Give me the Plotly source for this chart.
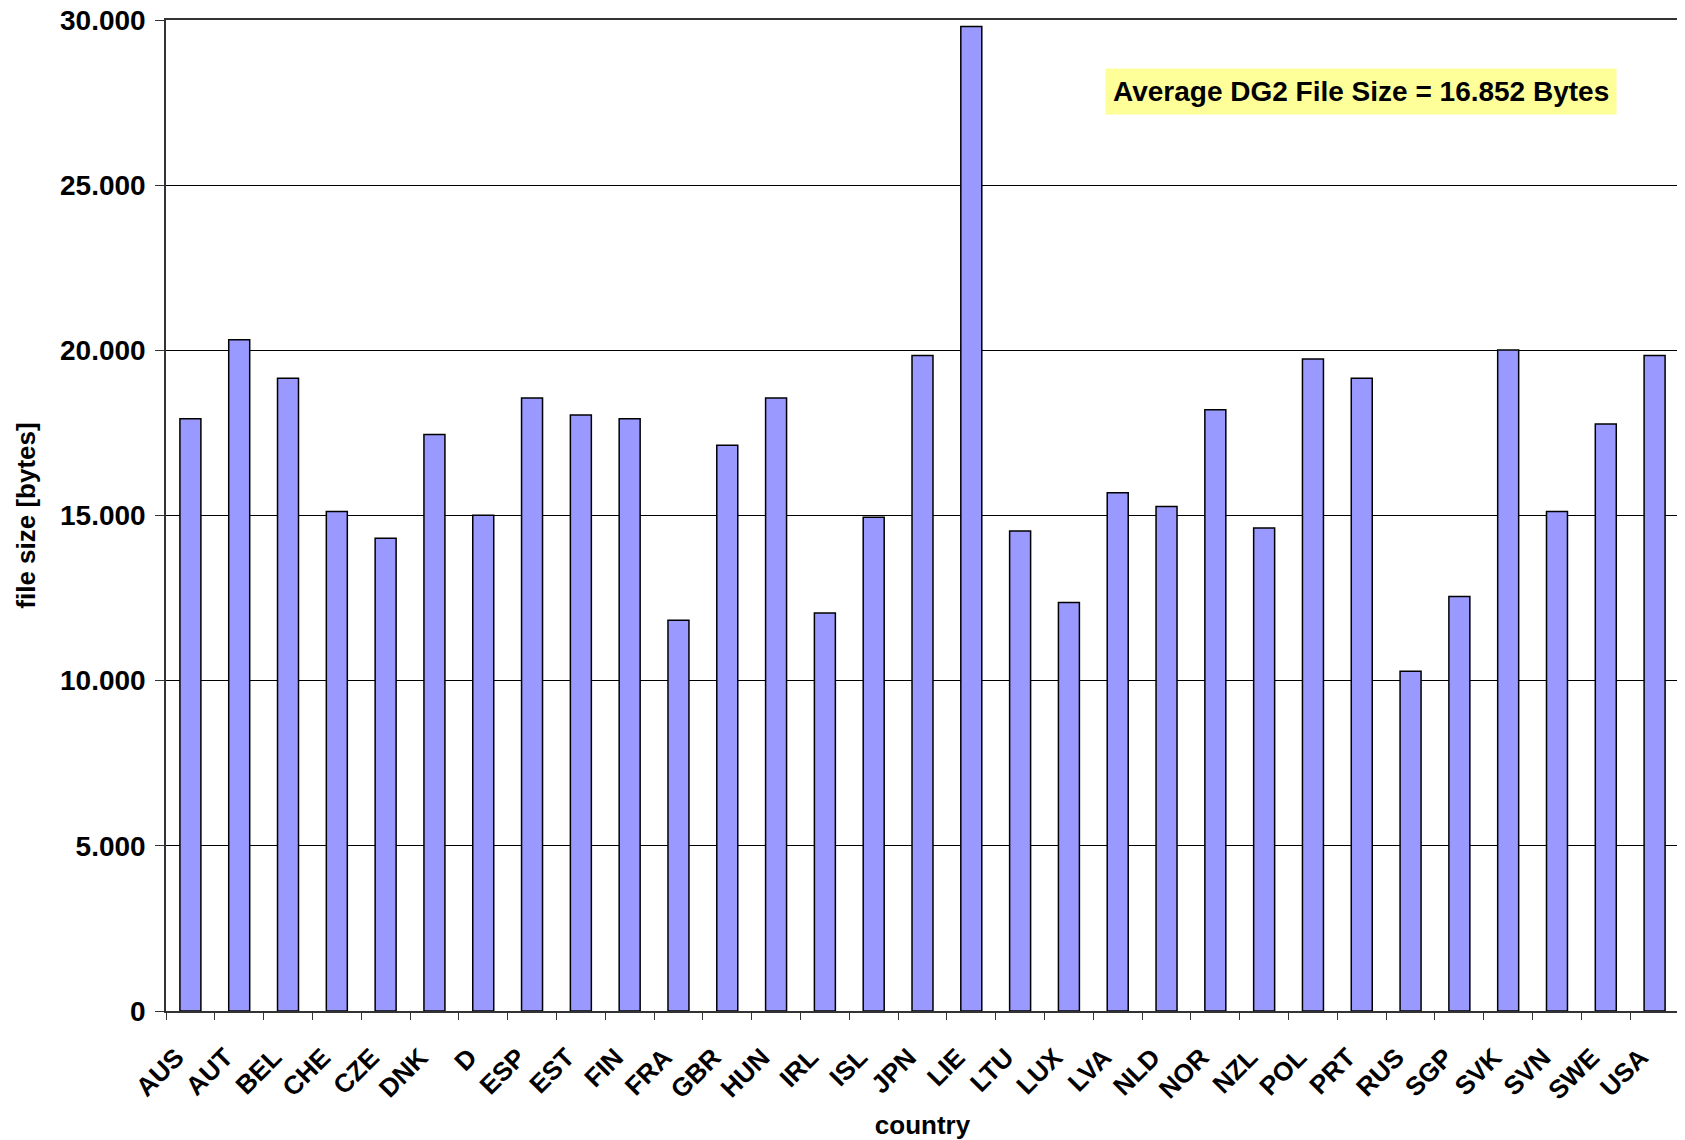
import plotly.graph_objects as go

countries = ['AUS', 'AUT', 'BEL', 'CHE', 'CZE', 'DNK', 'D', 'ESP', 'EST', 'FIN', 'FRA',
             'GBR', 'HUN', 'IRL', 'ISL', 'JPN', 'LIE', 'LTU', 'LUX', 'LVA', 'NLD', 'NOR',
             'NZL', 'POL', 'PRT', 'RUS', 'SGP', 'SVK', 'SVN', 'SWE', 'USA']
file_size = [17930, 20320, 19155, 15120, 14310, 17455, 15010, 18560, 18040, 17930, 11830,
             17130, 18560, 12050, 14950, 19840, 29800, 14530, 12370, 15690, 15270, 18200,
             14620, 19740, 19155, 10285, 12550, 20010, 15120, 17770, 19840]
y_ticks = [0, 5000, 10000, 15000, 20000, 25000, 30000]
avg_text = 'Average DG2 File Size = 16.852 Bytes'

FONT = 'Liberation Sans, Arial, sans-serif'

fig = go.Figure()

fig.add_trace(go.Bar(
    x=countries, y=file_size,
    marker=dict(color='#9999FF', line=dict(color='black', width=1.5)),
    showlegend=False,
))

# Kasten mit dem Mittelwert
fig.add_annotation(
    xref='paper', yref='paper',
    x=0.7901, y=0.9281, xanchor='center', yanchor='middle',
    text=avg_text,
    showarrow=False,
    bgcolor='#FFFF99',
    borderpad=7,
    font=dict(family=FONT, size=28, color='black', weight='bold'),
)

# body hat 8px Rand -> Figur etwas kleiner
fig.update_layout(
    width=1677, height=1132,
    margin=dict(l=158, r=6, t=12, b=129),
    plot_bgcolor='white', paper_bgcolor='white',
    separators=',.',
    bargap=0.57,
    font=dict(family=FONT, color='black'),
    xaxis=dict(
        title=dict(text='country', font=dict(family=FONT, size=26, weight='bold'), standoff=12),
        tickangle=-45,
        tickfont=dict(family=FONT, size=26, weight='bold'),
        ticklabelstandoff=19,
        ticklabelshift=-14,
        tickson='boundaries',
        ticks='outside', ticklen=7, tickcolor='#333',
        showline=True, linecolor='#333', linewidth=1.5, mirror=True,
        showgrid=False,
        automargin=False,
    ),
    yaxis=dict(
        title=dict(text='file size [bytes]', font=dict(family=FONT, size=26, weight='bold'), standoff=17),
        range=[0, 30000],
        tickvals=y_ticks,
        tickformat=',d',
        tickfont=dict(family=FONT, size=28, weight='bold'),
        ticklabelstandoff=4,
        ticklabeloverflow='allow',
        ticks='outside', ticklen=9, tickcolor='#333',
        showline=True, linecolor='#333', linewidth=1.5, mirror=True,
        showgrid=True, gridcolor='black', gridwidth=1,
        zeroline=False,
        automargin=False,
    ),
)

fig.write_html('out.html')
